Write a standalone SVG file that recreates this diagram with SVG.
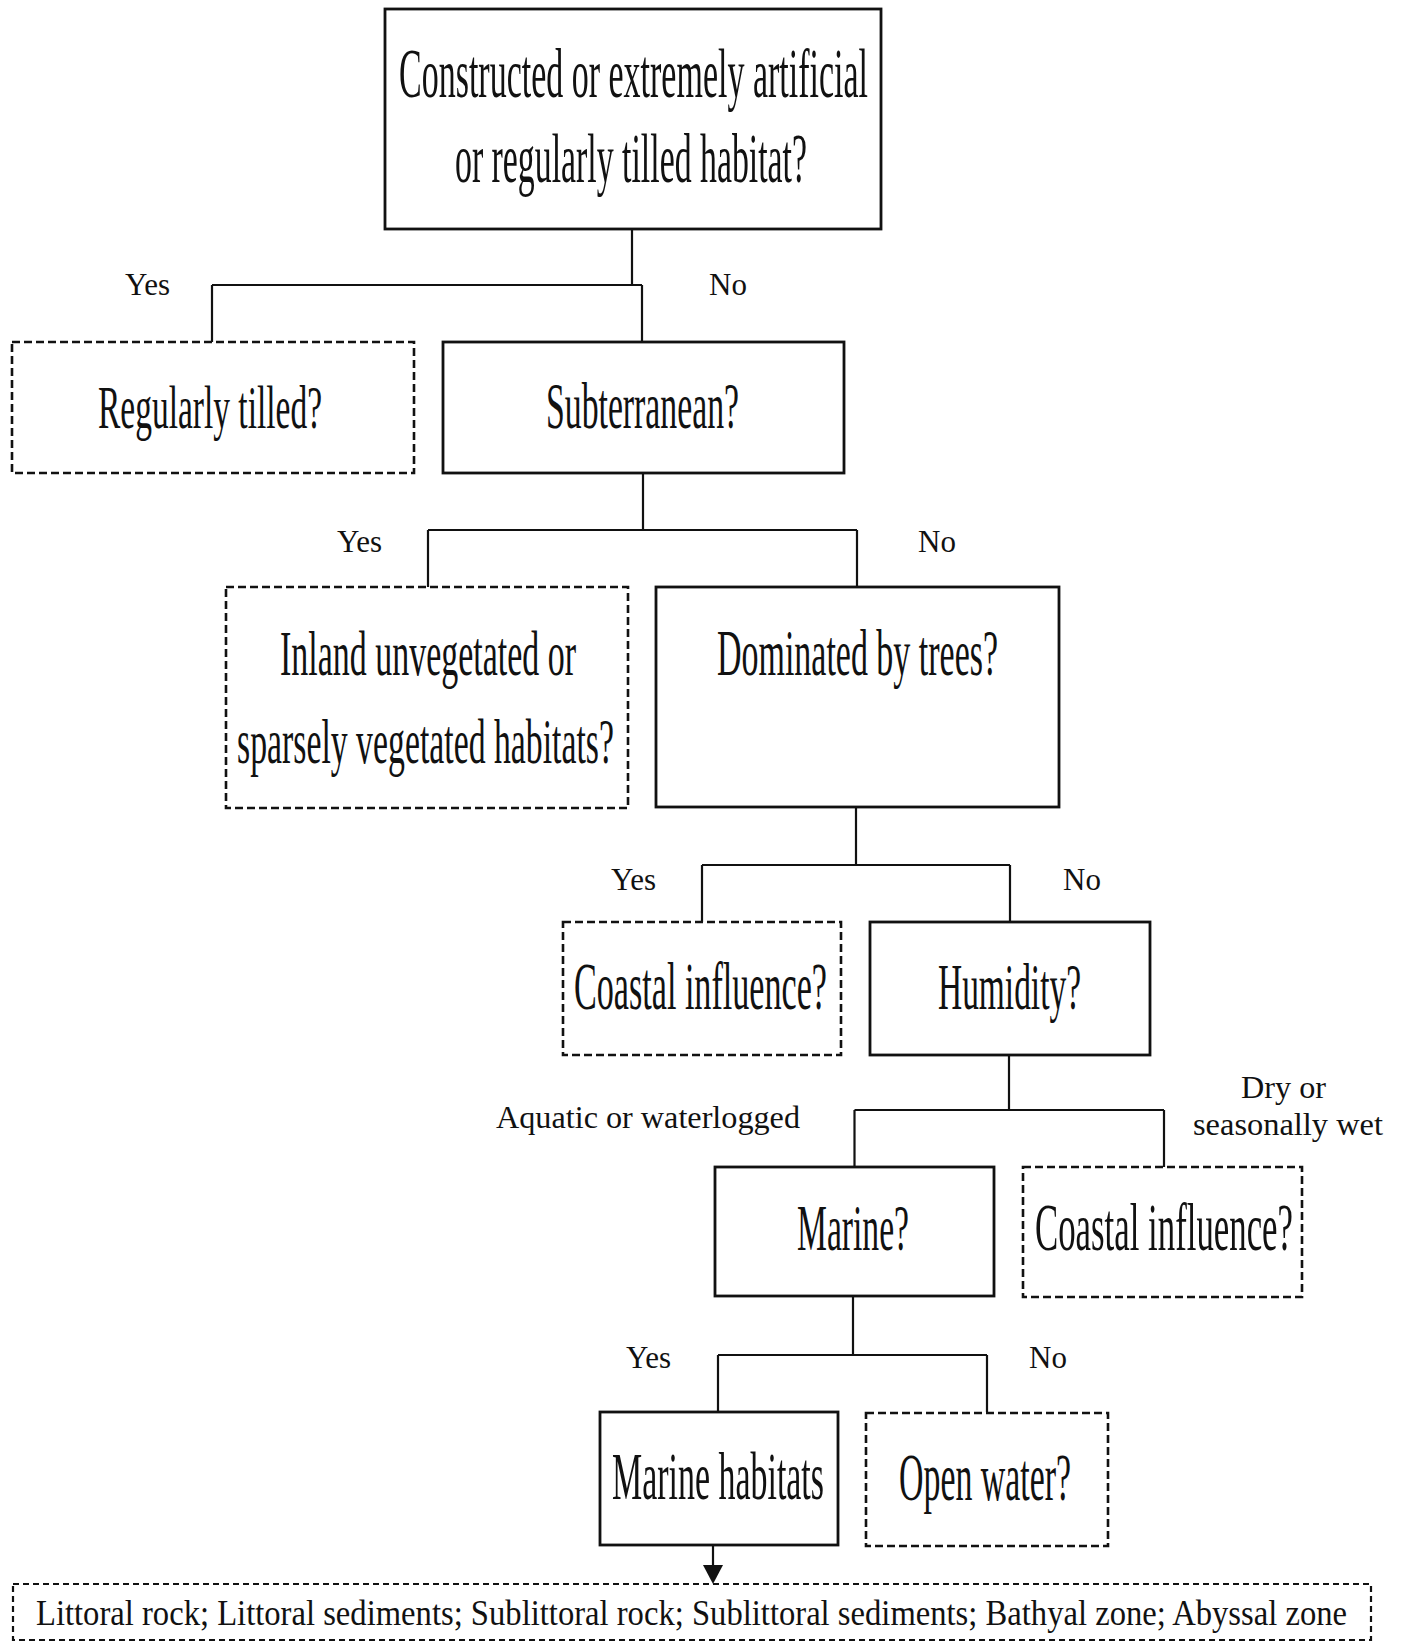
<svg xmlns="http://www.w3.org/2000/svg" width="1401" height="1643" viewBox="0 0 1401 1643">
<defs>
<style>
.box{fill:#fff;stroke:#111;stroke-width:2.8}
.dbox{fill:#fff;stroke:#111;stroke-width:2.6;stroke-dasharray:8 4}
.bbox{fill:none;stroke:#111;stroke-width:2.2;stroke-dasharray:6 4}
.con{fill:none;stroke:#111;stroke-width:2.2}
.bt{font-family:"Liberation Serif","Times New Roman",serif;fill:#111}
.lb{font-family:"Liberation Serif","Times New Roman",serif;font-size:31px;fill:#111}
</style>
</defs>
<rect width="1401" height="1643" fill="#fff"/>

<g id="connectors">
<path class="con" d="M632,229 V285 M212,285 H642 M212,285 V342 M642,285 V342"/>
<path class="con" d="M643,473 V530 M428,530 H857 M428,530 V587 M857,530 V587"/>
<path class="con" d="M856,807 V865 M702,865 H1010 M702,865 V922 M1010,865 V922"/>
<path class="con" d="M1009,1055 V1110 M854.5,1110 H1164 M854.5,1110 V1167 M1164,1110 V1167"/>
<path class="con" d="M853,1296 V1355 M718,1355 H987 M718,1355 V1412 M987,1355 V1412"/>
<line x1="713" y1="1545" x2="713" y2="1566" class="con"/>
<path d="M703,1565 L723,1565 L713,1584 Z" fill="#111"/>
<text class="lb" x="125" y="295">Yes</text>
<text class="lb" x="709" y="295">No</text>
<text class="lb" x="337" y="552">Yes</text>
<text class="lb" x="918" y="552">No</text>
<text class="lb" x="611" y="890">Yes</text>
<text class="lb" x="1063" y="890">No</text>
<text class="lb" x="496" y="1128" textLength="304" lengthAdjust="spacingAndGlyphs">Aquatic or waterlogged</text>
<text class="lb" x="1241" y="1098" textLength="85" lengthAdjust="spacingAndGlyphs">Dry or</text>
<text class="lb" x="1193" y="1135" textLength="190" lengthAdjust="spacingAndGlyphs">seasonally wet</text>
<text class="lb" x="626" y="1368">Yes</text>
<text class="lb" x="1029" y="1368">No</text>
</g>

<g id="n_constructed">
<rect class="box" x="385" y="9" width="496" height="220"/>
<text class="bt" x="399" y="97" font-size="70" textLength="469" lengthAdjust="spacingAndGlyphs">Constructed or extremely artificial</text>
<text class="bt" x="455" y="182" font-size="70" textLength="352" lengthAdjust="spacingAndGlyphs">or regularly tilled habitat?</text>
</g>

<g id="n_tilled">
<rect class="dbox" x="12" y="342" width="402" height="131"/>
<text class="bt" x="98" y="428" font-size="62" textLength="224" lengthAdjust="spacingAndGlyphs">Regularly tilled?</text>
</g>

<g id="n_subterranean">
<rect class="box" x="443" y="342" width="401" height="131"/>
<text class="bt" x="546" y="428" font-size="66" textLength="193" lengthAdjust="spacingAndGlyphs">Subterranean?</text>
</g>

<g id="n_inland">
<rect class="dbox" x="226" y="587" width="402" height="221"/>
<text class="bt" x="280" y="675" font-size="64" textLength="296" lengthAdjust="spacingAndGlyphs">Inland unvegetated or</text>
<text class="bt" x="237" y="763" font-size="64" textLength="377" lengthAdjust="spacingAndGlyphs">sparsely vegetated habitats?</text>
</g>

<g id="n_trees">
<rect class="box" x="656" y="587" width="403" height="220"/>
<text class="bt" x="717" y="675" font-size="66" textLength="281" lengthAdjust="spacingAndGlyphs">Dominated by trees?</text>
</g>

<g id="n_coastal1">
<rect class="dbox" x="563" y="922" width="278" height="133"/>
<text class="bt" x="574" y="1009" font-size="67" textLength="253" lengthAdjust="spacingAndGlyphs">Coastal influence?</text>
</g>

<g id="n_humidity">
<rect class="box" x="870" y="922" width="280" height="133"/>
<text class="bt" x="938" y="1009" font-size="66" textLength="143" lengthAdjust="spacingAndGlyphs">Humidity?</text>
</g>

<g id="n_marine">
<rect class="box" x="715" y="1167" width="279" height="129"/>
<text class="bt" x="797" y="1250" font-size="66" textLength="112" lengthAdjust="spacingAndGlyphs">Marine?</text>
</g>

<g id="n_coastal2">
<rect class="dbox" x="1023" y="1167" width="279" height="130"/>
<text class="bt" x="1035" y="1250" font-size="67" textLength="258" lengthAdjust="spacingAndGlyphs">Coastal influence?</text>
</g>

<g id="n_marinehab">
<rect class="box" x="600" y="1412" width="238" height="133"/>
<text class="bt" x="612" y="1499" font-size="68" textLength="212" lengthAdjust="spacingAndGlyphs">Marine habitats</text>
</g>

<g id="n_openwater">
<rect class="dbox" x="866" y="1413" width="242" height="133"/>
<text class="bt" x="899" y="1500" font-size="68" textLength="172" lengthAdjust="spacingAndGlyphs">Open water?</text>
</g>

<g id="n_list">
<rect class="bbox" x="13" y="1584" width="1358" height="56"/>
<text class="bt" x="36" y="1625" font-size="35" textLength="1311" lengthAdjust="spacingAndGlyphs">Littoral rock; Littoral sediments; Sublittoral rock; Sublittoral sediments; Bathyal zone; Abyssal zone</text>
</g>
</svg>
